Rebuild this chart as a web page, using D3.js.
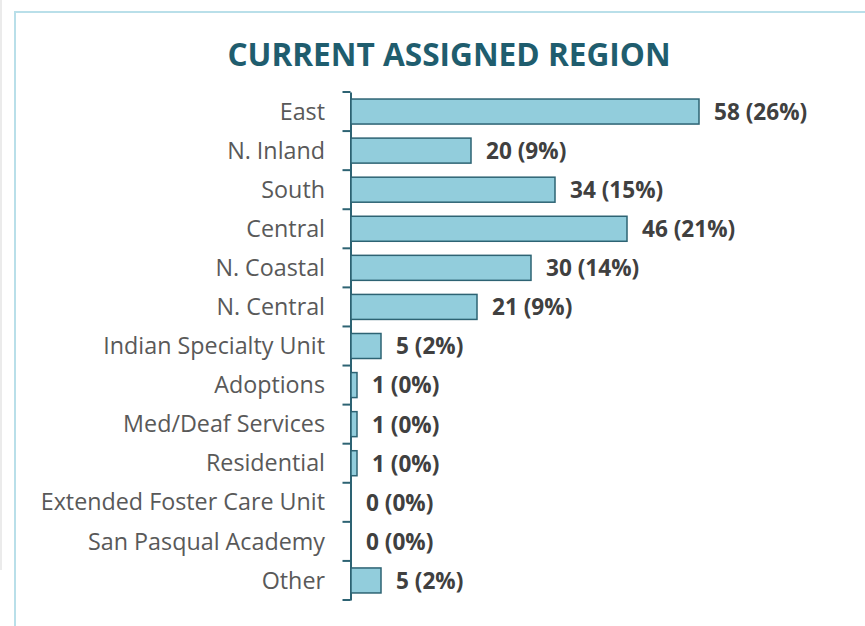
<!DOCTYPE html>
<html><head><meta charset="utf-8">
<script src="https://cdn.jsdelivr.net/npm/d3@7"></script>
<style>body{margin:0;background:#fff;}svg{display:block;}</style>
</head><body>
<script>
const categories = ["East","N. Inland","South","Central","N. Coastal","N. Central","Indian Specialty Unit","Adoptions","Med/Deaf Services","Residential","Extended Foster Care Unit","San Pasqual Academy","Other"];
const counts = [58,20,34,46,30,21,5,1,1,1,0,0,5];
const percents = [26,9,15,21,14,9,2,0,0,0,0,0,2];
const title = "CURRENT ASSIGNED REGION";

const W = 865, H = 626;
const svg = d3.select("body").append("svg").attr("width", W).attr("height", H);

// frame
svg.append("line").attr("x1",1).attr("x2",1).attr("y1",0).attr("y2",570).attr("stroke","#e4e4e4").attr("stroke-width",1.5);
svg.append("path").attr("d",`M15,${H} V12 H${W}`).attr("fill","none").attr("stroke","#b9dfe9").attr("stroke-width",2);

svg.append("text").attr("x",449).attr("y",66).attr("text-anchor","middle")
  .attr("font-family","Open Sans").attr("font-weight","bold").attr("font-size",31.6)
  .attr("fill","#1f5d6e").text(title);

const x0 = 351;
const x = d3.scaleLinear().domain([0,58]).range([x0, 699]);
const y = d3.scaleBand().domain(categories).range([92,600]).paddingInner(0.36).paddingOuter(0.18);

const axisG = svg.append("g").attr("transform",`translate(${x0-0.5},0)`);
axisG.call(d3.axisLeft(y).tickSize(0).tickFormat(""));
axisG.select(".domain").attr("stroke","#2d6373").attr("stroke-width",2);
// boundary ticks
const bounds = d3.range(categories.length+1).map(i => 92 + i*(508/categories.length));
axisG.selectAll("line.bt").data(bounds).join("line").attr("class","bt")
  .attr("x1",-8).attr("x2",0).attr("y1",d=>d).attr("y2",d=>d)
  .attr("stroke","#2d6373").attr("stroke-width",2);

svg.selectAll("rect.bar").data(categories).join("rect").attr("class","bar")
  .attr("x", x0).attr("y", d=>y(d))
  .attr("width", (d,i)=>x(counts[i])-x0).attr("height", y.bandwidth())
  .attr("fill","#92cddc").attr("stroke","#2d6373").attr("stroke-width",1.5)
  .attr("display",(d,i)=>counts[i]===0?"none":null);

svg.selectAll("text.cat").data(categories).join("text").attr("class","cat")
  .attr("x",325).attr("y",d=>y(d)+y.bandwidth()/2).attr("dy","0.35em")
  .attr("text-anchor","end").attr("font-family","Open Sans").attr("font-size",23.3)
  .attr("fill","#595959").text(d=>d);

svg.selectAll("text.val").data(categories).join("text").attr("class","val")
  .attr("x",(d,i)=>x(counts[i])+15).attr("y",d=>y(d)+y.bandwidth()/2).attr("dy","0.37em")
  .attr("font-family","Open Sans").attr("font-weight","bold").attr("font-size",22.6)
  .attr("fill","#404040").text((d,i)=>`${counts[i]} (${percents[i]}%)`);
</script>
</body></html>
